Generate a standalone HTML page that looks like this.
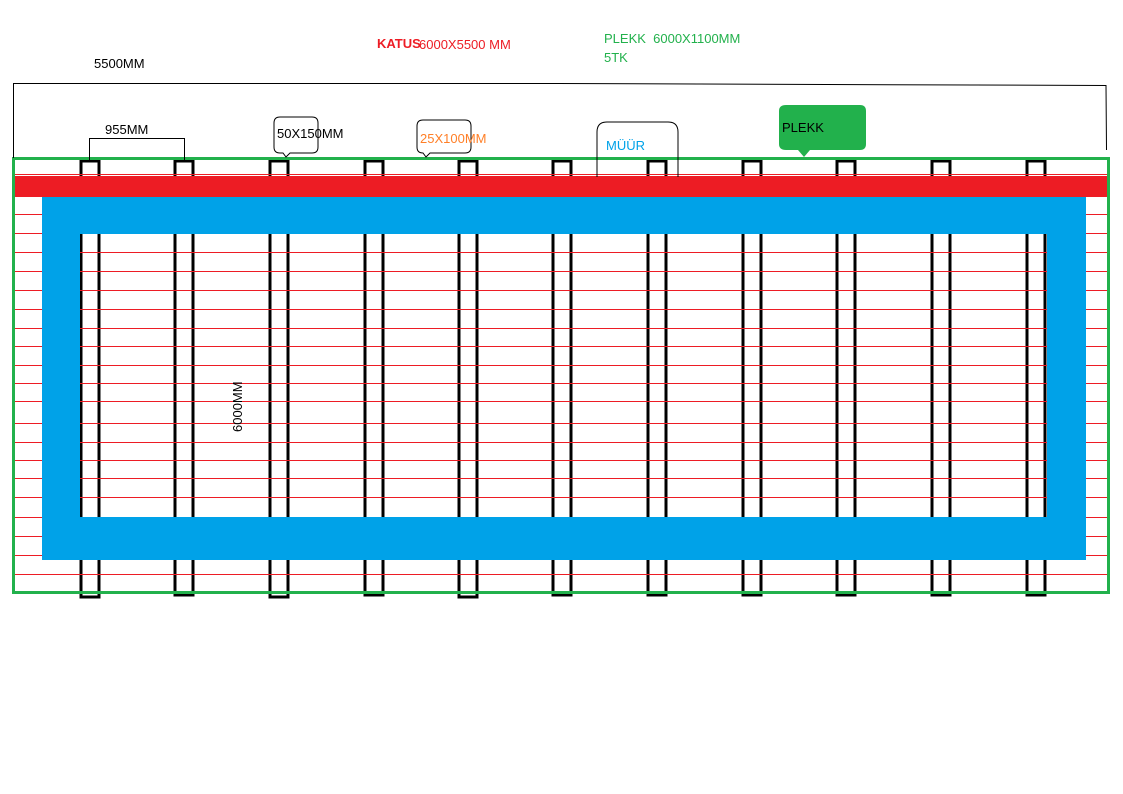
<!DOCTYPE html>
<html><head><meta charset="utf-8"><style>body{margin:0;background:#fff}svg{display:block}text{font-family:"Liberation Sans",sans-serif;font-size:13px}</style></head><body>
<svg width="1123" height="794" viewBox="0 0 1123 794" xmlns="http://www.w3.org/2000/svg">
<rect width="1123" height="794" fill="#fff"/>
<g fill="none" stroke="#000" stroke-width="3">
<rect x="81" y="161" width="18" height="436"/>
<rect x="175" y="161" width="18" height="434"/>
<rect x="270" y="161" width="18" height="436"/>
<rect x="365" y="161" width="18" height="434"/>
<rect x="459" y="161" width="18" height="436"/>
<rect x="553" y="161" width="18" height="434"/>
<rect x="648" y="161" width="18" height="434"/>
<rect x="743" y="161" width="18" height="434"/>
<rect x="837" y="161" width="18" height="434"/>
<rect x="932" y="161" width="18" height="434"/>
<rect x="1027" y="161" width="18" height="434"/>
</g>
<g stroke="#ed1c24" stroke-width="1">
<line x1="15" y1="174.5" x2="1108" y2="174.5"/>
<line x1="15" y1="214.5" x2="1108" y2="214.5"/>
<line x1="15" y1="233.5" x2="1108" y2="233.5"/>
<line x1="15" y1="252.5" x2="1108" y2="252.5"/>
<line x1="15" y1="271.5" x2="1108" y2="271.5"/>
<line x1="15" y1="290.5" x2="1108" y2="290.5"/>
<line x1="15" y1="309.5" x2="1108" y2="309.5"/>
<line x1="15" y1="328.5" x2="1108" y2="328.5"/>
<line x1="15" y1="346.5" x2="1108" y2="346.5"/>
<line x1="15" y1="365.5" x2="1108" y2="365.5"/>
<line x1="15" y1="383.5" x2="1108" y2="383.5"/>
<line x1="15" y1="401.5" x2="1108" y2="401.5"/>
<line x1="15" y1="423.5" x2="1108" y2="423.5"/>
<line x1="15" y1="442.5" x2="1108" y2="442.5"/>
<line x1="15" y1="460.5" x2="1108" y2="460.5"/>
<line x1="15" y1="478.5" x2="1108" y2="478.5"/>
<line x1="15" y1="497.5" x2="1108" y2="497.5"/>
<line x1="15" y1="517.5" x2="1108" y2="517.5"/>
<line x1="15" y1="536.5" x2="1108" y2="536.5"/>
<line x1="15" y1="555.5" x2="1108" y2="555.5"/>
<line x1="15" y1="574.5" x2="1108" y2="574.5"/>
</g>
<rect x="15" y="176" width="1094" height="21" fill="#ed1c24"/>
<path d="M42 197 H1086 V560 H42 Z M80 234 V517 H1047 V234 Z" fill="#00a2e8" fill-rule="evenodd"/>
<rect x="13.5" y="158.5" width="1095" height="434" fill="none" stroke="#22b14c" stroke-width="3"/>
<g stroke="#000" stroke-width="1" fill="none">
<polyline points="13.5,158 13.5,83.5 558,83.5 1106,85.5 1106.5,150"/>
<polyline points="89.5,160 89.5,138.5 184.5,138.5 184.5,160"/>
<path d="M282 117 H312 Q318 117 318 123 V147 Q318 153 312 153 H290 L286 157 L283 153 H280 Q274 153 274 147 V123 Q274 117 280 117 Z"/>
<path d="M423 120 H465 Q471 120 471 126 V147 Q471 153 465 153 H430 L426 157 L423 153 H423 Q417 153 417 147 V126 Q417 120 423 120 Z"/>
<path d="M597 177 V132 Q597 122 607 122 H668 Q678 122 678 132 V177"/>
</g>
<path d="M786 105 H860 Q866 105 866 111 V144 Q866 150 860 150 H810 L804 157 L798 150 H786 Q779 150 779 144 V111 Q779 105 786 105 Z" fill="#22b14c"/>
<text x="94" y="68" fill="#000">5500MM</text>
<text x="377" y="48" fill="#ed1c24" font-weight="bold">KATUS</text>
<text x="419" y="49" fill="#ed1c24">6000X5500 MM</text>
<text x="604" y="43" fill="#22b14c">PLEKK&#160; 6000X1100MM</text>
<text x="604" y="62" fill="#22b14c">5TK</text>
<text x="105" y="134" fill="#000">955MM</text>
<text x="277" y="138" fill="#000">50X150MM</text>
<text x="420" y="143" fill="#ff7f27">25X100MM</text>
<text x="606" y="150" fill="#00a2e8">MÜÜR</text>
<text x="782" y="132" fill="#000">PLEKK</text>
<text x="0" y="0" fill="#000" transform="translate(242,432) rotate(-90)">6000MM</text>
</svg>
</body></html>
